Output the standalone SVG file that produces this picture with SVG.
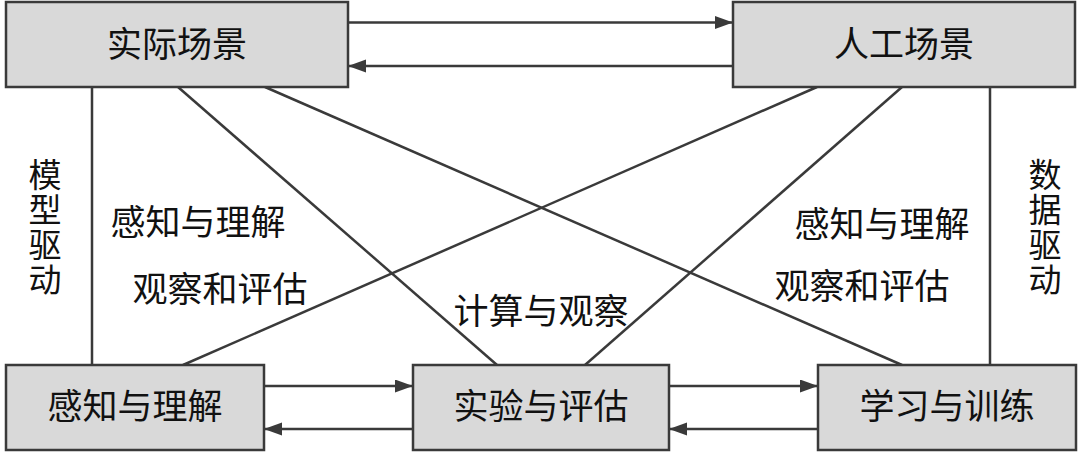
<svg xmlns="http://www.w3.org/2000/svg" width="1080" height="454" viewBox="0 0 1080 454">
<defs>
<style>
.box{fill:#d9d9d9;stroke:#3a3a3a;stroke-width:2.5}
.ln{stroke:#3a3a3a;stroke-width:2.5;fill:none}
.arr{stroke:#3a3a3a;stroke-width:2.5;fill:none;marker-end:url(#ah)}
.t{font-family:"Noto Sans CJK SC","Noto Sans",sans-serif;font-size:35px;fill:#111;text-anchor:middle}
.v{font-family:"Noto Sans CJK SC","Noto Sans",sans-serif;font-size:33px;fill:#111;writing-mode:vertical-rl;text-orientation:upright;letter-spacing:2px}
</style>
<marker id="ah" markerUnits="userSpaceOnUse" markerWidth="20" markerHeight="14" refX="18" refY="6.5" orient="auto">
<path d="M0,0 L18,6.5 L0,13 z" fill="#3a3a3a"/>
</marker>
</defs>
<rect width="1080" height="454" fill="#ffffff"/>
<g id="connectors">
<line class="ln" x1="92" y1="87" x2="92" y2="365"/>
<line class="ln" x1="990" y1="87" x2="990" y2="365"/>
<line class="ln" x1="178" y1="87" x2="497" y2="365"/>
<line class="ln" x1="265" y1="87" x2="902" y2="365"/>
<line class="ln" x1="817" y1="87" x2="183" y2="365"/>
<line class="ln" x1="902" y1="87" x2="585" y2="365"/>
<line class="arr" x1="348" y1="22.5" x2="733" y2="22.5"/>
<line class="arr" x1="733" y1="66" x2="348" y2="66"/>
<line class="arr" x1="264" y1="386" x2="413" y2="386"/>
<line class="arr" x1="413" y1="429" x2="264" y2="429"/>
<line class="arr" x1="669" y1="386" x2="818" y2="386"/>
<line class="arr" x1="818" y1="429" x2="669" y2="429"/>
</g>
<g id="real-scene">
<rect class="box" x="6" y="2" width="342" height="85"/>
<text class="t" x="177" y="57">实际场景</text>
</g>
<g id="artificial-scene">
<rect class="box" x="733" y="2" width="342" height="85"/>
<text class="t" x="904" y="57">人工场景</text>
</g>
<g id="perception">
<rect class="box" x="6" y="365" width="258" height="85"/>
<text class="t" x="135" y="419">感知与理解</text>
</g>
<g id="experiment">
<rect class="box" x="413" y="365" width="256" height="85"/>
<text class="t" x="541" y="419">实验与评估</text>
</g>
<g id="learning">
<rect class="box" x="818" y="365" width="258" height="85"/>
<text class="t" x="947" y="419">学习与训练</text>
</g>
<g id="labels">
<text class="v" x="45" y="158">模型驱动</text>
<text class="v" x="1045" y="158">数据驱动</text>
<text class="t" x="198" y="235">感知与理解</text>
<text class="t" x="220" y="302">观察和评估</text>
<text class="t" x="541" y="324">计算与观察</text>
<text class="t" x="882" y="237">感知与理解</text>
<text class="t" x="862" y="299">观察和评估</text>
</g>
</svg>
